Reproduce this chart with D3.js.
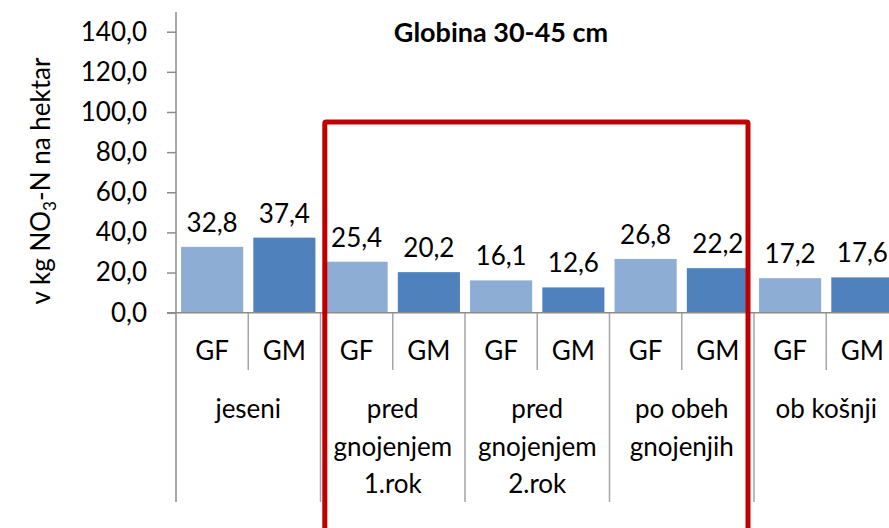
<!DOCTYPE html>
<html>
<head>
<meta charset="utf-8">
<script src="https://cdn.jsdelivr.net/npm/d3@7"></script>
<style>
  html, body { margin: 0; padding: 0; background: #fff; }
  svg { display: block; }
  text { font-family: Lato, "Open Sans", sans-serif; fill: #000; }
</style>
</head>
<body>
<svg id="chart" width="889" height="528"></svg>
<script>
// Nitrate nitrogen (kg NO3-N per hectare) at 30-45 cm depth
const categories = [
  ["jeseni"],
  ["pred", "gnojenjem", "1.rok"],
  ["pred", "gnojenjem", "2.rok"],
  ["po obeh", "gnojenjih"],
  ["ob košnji"]
];
const series = ["GF", "GM"];
const valuesGF = [32.8, 25.4, 16.1, 26.8, 17.2];
const valuesGM = [37.4, 20.2, 12.6, 22.2, 17.6];
const yTicks = [0, 20, 40, 60, 80, 100, 120, 140];

const svg = d3.select("#chart");
const catKeys = categories.map(c => c.join(" "));
const axisX = 176, y0 = 312.7;
const fs = 26;

const x = d3.scaleBand().domain(catKeys).range([axisX, axisX + 144.5 * 5]).padding(0);
const xs = d3.scaleBand().domain(series).range([0, x.bandwidth()]).paddingInner(0.14).paddingOuter(0.07);
const y = d3.scaleLinear().domain([0, 140]).range([y0, 31.7]);

const colors = { GF: "#8DADD5", GM: "#4F81BD" };
const gridGrey = "#A6A6A6";
const axisGrey = "#8C8C8C";

// title
svg.append("text")
  .attr("x", 501).attr("y", 42)
  .attr("text-anchor", "middle")
  .attr("font-weight", "bold")
  .attr("font-size", 27)
  .text("Globina 30-45 cm");

// y axis label with subscript
const yl = svg.append("text")
  .attr("transform", "translate(50,181) rotate(-90)")
  .attr("text-anchor", "middle")
  .attr("font-size", fs);
yl.append("tspan").text("v kg NO");
yl.append("tspan").attr("font-size", 17).attr("dy", 6).text("3");
yl.append("tspan").attr("dy", -6).text("-N na hektar");

// y axis
const yAxis = d3.axisLeft(y).tickValues(yTicks).tickSize(9).tickPadding(20)
  .tickFormat(d => d3.format(".1f")(d).replace(".", ","));
const ga = svg.append("g").attr("transform", `translate(${axisX},0)`).call(yAxis);
ga.select(".domain").remove();
ga.selectAll(".tick line").attr("stroke", axisGrey).attr("stroke-width", 1.5);
ga.selectAll(".tick text").attr("font-size", fs).attr("font-family", "Lato, sans-serif").attr("fill", "#000");
svg.append("line").attr("x1", axisX).attr("x2", axisX).attr("y1", 12).attr("y2", 502)
  .attr("stroke", axisGrey).attr("stroke-width", 1.5);

// category rows
const groups = svg.selectAll("g.cat").data(categories.map((c, i) => ({
  key: catKeys[i], lines: c, GF: valuesGF[i], GM: valuesGM[i]
}))).join("g").attr("class", "cat")
  .attr("transform", d => `translate(${x(d.key)},0)`);

// bars
groups.selectAll("rect").data(d => series.map(s => ({ s, v: d[s] }))).join("rect")
  .attr("x", d => xs(d.s))
  .attr("width", xs.bandwidth())
  .attr("y", d => y(d.v))
  .attr("height", d => y0 - y(d.v))
  .attr("fill", d => colors[d.s]);

// value labels
groups.selectAll("text.val").data(d => series.map(s => ({ s, v: d[s] }))).join("text")
  .attr("class", "val")
  .attr("x", d => xs(d.s) + xs.bandwidth() / 2)
  .attr("y", d => y(d.v) - 15)
  .attr("text-anchor", "middle")
  .attr("font-size", fs)
  .text(d => d3.format(".1f")(d.v).replace(".", ","));

// separators between series and categories
groups.append("line")
  .attr("x1", x.bandwidth() / 2).attr("x2", x.bandwidth() / 2)
  .attr("y1", y0).attr("y2", 370)
  .attr("stroke", gridGrey).attr("stroke-width", 1.5);
groups.append("line")
  .attr("x1", x.bandwidth()).attr("x2", x.bandwidth())
  .attr("y1", y0).attr("y2", 502)
  .attr("stroke", gridGrey).attr("stroke-width", 1.5);

// series labels
groups.selectAll("text.ser").data(series).join("text")
  .attr("class", "ser")
  .attr("x", (d, i) => x.bandwidth() / 4 + i * x.bandwidth() / 2)
  .attr("y", 360)
  .attr("text-anchor", "middle")
  .attr("font-size", fs)
  .text(d => d);

// category labels
groups.each(function(d) {
  d3.select(this).selectAll("text.catl").data(d.lines).join("text")
    .attr("class", "catl")
    .attr("x", x.bandwidth() / 2)
    .attr("y", (l, i) => 418 + i * 37.5)
    .attr("text-anchor", "middle")
    .attr("font-size", fs)
    .text(l => l);
});

// horizontal axis
svg.append("line").attr("x1", axisX - 9).attr("x2", 889).attr("y1", y0).attr("y2", y0)
  .attr("stroke", axisGrey).attr("stroke-width", 1.5);

// highlight frame around the fertilisation periods
const frameL = x(catKeys[1]) + 4.3;
const frameR = x(catKeys[3]) + x.bandwidth() - 6;
svg.append("rect")
  .attr("x", frameL).attr("y", y(95))
  .attr("width", frameR - frameL).attr("height", 460)
  .attr("rx", 1.5)
  .attr("fill", "none")
  .attr("stroke", "#C00000")
  .attr("stroke-width", 5);
</script>
</body>
</html>
